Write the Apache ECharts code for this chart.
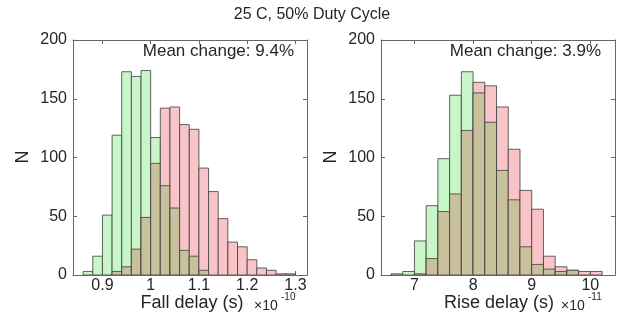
<!DOCTYPE html>
<html>
<head>
<meta charset="utf-8">
<script src="https://cdn.jsdelivr.net/npm/echarts@6/dist/echarts.min.js"></script>
<style>
  html, body { margin: 0; padding: 0; background: #fff; }
  #chart { width: 624px; height: 331px; }
</style>
</head>
<body>
<div id="chart"></div>
<script>
// bin left edges (x1e-10 s for fall, x1e-11 s for rise)
const fallBins = [0.86, 0.88, 0.90, 0.92, 0.94, 0.96, 0.98, 1.00, 1.02, 1.04, 1.06,
  1.08, 1.10, 1.12, 1.14, 1.16, 1.18, 1.20, 1.22, 1.24, 1.26, 1.28]
const fallBinWidth = 0.02
const fallGreen = [3, 16, 51, 119, 173, 169, 174, 117, 76, 57, 21, 16, 4, 0, 0, 0, 0, 0, 0, 0, 0, 0]
const fallRed = [0, 0, 0, 3, 7, 22, 49, 95, 142, 143, 128, 124, 91, 71, 48, 28, 24, 13, 6, 4, 1, 1]

const riseBins = [6.6, 6.8, 7.0, 7.2, 7.4, 7.6, 7.8, 8.0, 8.2, 8.4, 8.6, 8.8, 9.0, 9.2, 9.4, 9.6, 9.8, 10.0]
const riseBinWidth = 0.2
const riseGreen = [1, 3, 29, 59, 99, 153, 173, 155, 130, 89, 64, 24, 9, 5, 3, 4, 0, 0]
const riseRed = [0, 0, 1, 14, 54, 69, 123, 164, 161, 143, 107, 72, 56, 16, 7, 4, 3, 3]

const fallTicks = [0.9, 1.0, 1.1, 1.2, 1.3]
const riseTicks = [7, 8, 9, 10]

const FONT = '"Liberation Sans", Arial, sans-serif'
const TEXT = '#262626'
const AXIS = '#666'
const GREEN = '#c8f6c8'
const RED = '#f9c4c8'
const BROWN = '#c9c19c'
const EDGE = '#3c3c3c'

const chart = echarts.init(document.getElementById('chart'))

// rows: [x0, x1, green, red]
const makeRows = (bins, w, g, r) => bins.map((b, i) => [b, +(b + w).toFixed(4), g[i], r[i]])

// taller bar in its own colour, overlap (shorter height) in brown on top
const renderHist = (params, api) => {
  const x0 = api.value(0), x1 = api.value(1)
  const g = api.value(2), r = api.value(3)
  const hi = Math.max(g, r), lo = Math.min(g, r)
  const children = []
  const rect = (h, fill) => {
    const tl = api.coord([x0, h])
    const br = api.coord([x1, 0])
    return {
      type: 'rect',
      shape: { x: tl[0], y: tl[1], width: br[0] - tl[0], height: br[1] - tl[1] },
      style: { fill: fill, stroke: EDGE, lineWidth: 0.8 }
    }
  }
  if (hi > 0) children.push(rect(hi, g > r ? GREEN : RED))
  if (lo > 0) children.push(rect(lo, BROWN))
  return { type: 'group', children: children }
}

const fmt = v => String(+(+v).toFixed(1))

const xAxisBase = (grid, min, max, ticks, pos, labels) => ({
  type: 'value',
  gridIndex: grid,
  position: pos,
  min: min,
  max: max,
  axisLine: { show: true, onZero: false, lineStyle: { color: AXIS, width: 1 } },
  axisTick: { show: true, inside: true, length: 4, customValues: ticks, lineStyle: { color: AXIS } },
  axisLabel: {
    show: labels, customValues: ticks, formatter: fmt, margin: 3,
    fontSize: 16, fontFamily: FONT, color: TEXT
  },
  splitLine: { show: false }
})

const yAxisBase = (grid, pos, labels) => ({
  type: 'value',
  gridIndex: grid,
  position: pos,
  min: 0,
  max: 200,
  interval: 50,
  axisLine: { show: true, onZero: false, lineStyle: { color: AXIS, width: 1 } },
  axisTick: { show: true, inside: true, length: 4, lineStyle: { color: AXIS } },
  axisLabel: { show: labels, margin: 6, fontSize: 16, fontFamily: FONT, color: TEXT },
  splitLine: { show: false }
})

const txt = (x, y, text, size, align, extra) => Object.assign({
  type: 'text',
  x: x, y: y,
  style: {
    text: text, fontSize: size, fontFamily: FONT, fill: TEXT,
    align: align || 'center', verticalAlign: 'middle'
  }
}, extra || {})

const option = {
  animation: false,
  backgroundColor: '#fff',
  grid: [
    { left: 73, top: 40, width: 234, height: 235 },
    { left: 381, top: 40, width: 234, height: 235 }
  ],
  xAxis: [
    xAxisBase(0, 0.839, 1.324, fallTicks, 'bottom', true),
    xAxisBase(1, 6.43, 10.42, riseTicks, 'bottom', true),
    xAxisBase(0, 0.839, 1.324, fallTicks, 'top', false),
    xAxisBase(1, 6.43, 10.42, riseTicks, 'top', false)
  ],
  yAxis: [
    yAxisBase(0, 'left', true),
    yAxisBase(1, 'left', true),
    yAxisBase(0, 'right', false),
    yAxisBase(1, 'right', false)
  ],
  series: [
    {
      type: 'custom',
      xAxisIndex: 0,
      yAxisIndex: 0,
      renderItem: renderHist,
      encode: { x: [0, 1], y: [2, 3] },
      data: makeRows(fallBins, fallBinWidth, fallGreen, fallRed),
      clip: true
    },
    {
      type: 'custom',
      xAxisIndex: 1,
      yAxisIndex: 1,
      renderItem: renderHist,
      encode: { x: [0, 1], y: [2, 3] },
      data: makeRows(riseBins, riseBinWidth, riseGreen, riseRed),
      clip: true
    }
  ],
  graphic: [
    txt(312, 15, '25 C, 50% Duty Cycle', 16),
    txt(294, 51, 'Mean change: 9.4%', 17, 'right'),
    txt(601, 51, 'Mean change: 3.9%', 17, 'right'),
    txt(23, 157, 'N', 18, 'center', { rotation: Math.PI / 2 }),
    txt(331, 157, 'N', 18, 'center', { rotation: Math.PI / 2 }),
    txt(192, 303, 'Fall delay (s)', 18),
    txt(254, 306, '×10', 14, 'left'),
    txt(281, 297, '-10', 10, 'left'),
    txt(499, 303, 'Rise delay (s)', 18),
    txt(561, 306, '×10', 14, 'left'),
    txt(588, 297, '-11', 10, 'left')
  ]
}

chart.setOption(option)
</script>
</body>
</html>
